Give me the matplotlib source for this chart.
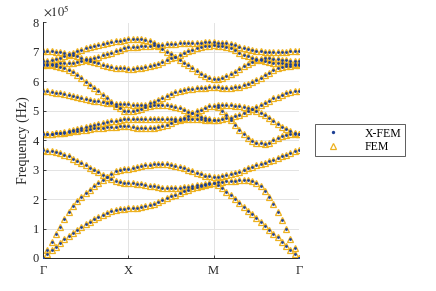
import numpy as np
import matplotlib
matplotlib.use("Agg")
import matplotlib.pyplot as plt

# --- path coordinate: G-X, X-M, M-G, 20 steps each ---
k_path = np.linspace(0, 3, 61)
k_ticks = [0, 1, 2, 3]
k_labels = ["Γ", "X", "M", "Γ"]

# --- band frequencies (x 1e5 Hz) ---
band_a = [0.00, 0.13, 0.26, 0.39, 0.51, 0.63, 0.74, 0.85, 0.95, 1.05, 1.14, 1.23, 1.32, 1.40, 1.47, 1.53, 1.58, 1.62, 1.66, 1.68, 1.70,
          1.70, 1.71, 1.73, 1.76, 1.80, 1.85, 1.91, 1.97, 2.03, 2.09, 2.15, 2.21, 2.27, 2.32, 2.37, 2.41, 2.45, 2.49, 2.52, 2.55,
          2.47, 2.37, 2.25, 2.13, 2.00, 1.87, 1.74, 1.61, 1.48, 1.35, 1.22, 1.09, 0.96, 0.83, 0.70, 0.56, 0.42, 0.28, 0.14, 0.00]
band_b = [0.00, 0.27, 0.54, 0.81, 1.07, 1.32, 1.55, 1.76, 1.94, 2.08, 2.20, 2.32, 2.44, 2.55, 2.66, 2.76, 2.86, 2.94, 2.99, 3.02, 3.03,
          3.07, 3.10, 3.13, 3.15, 3.17, 3.19, 3.20, 3.20, 3.19, 3.17, 3.14, 3.10, 3.05, 3.00, 2.95, 2.90, 2.85, 2.80, 2.77, 2.75,
          2.76, 2.78, 2.81, 2.85, 2.89, 2.93, 2.99, 3.05, 3.10, 3.15, 3.20, 3.24, 3.28, 3.33, 3.39, 3.45, 3.51, 3.57, 3.62, 3.66]
band_c = [3.66, 3.65, 3.63, 3.60, 3.56, 3.51, 3.45, 3.38, 3.31, 3.23, 3.15, 3.07, 2.99, 2.91, 2.83, 2.76, 2.68, 2.62, 2.58, 2.56, 2.55,
          2.54, 2.53, 2.51, 2.48, 2.45, 2.43, 2.41, 2.39, 2.38, 2.37, 2.37, 2.38, 2.40, 2.42, 2.44, 2.47, 2.49, 2.52, 2.54, 2.56,
          2.57, 2.58, 2.60, 2.61, 2.63, 2.64, 2.65, 2.64, 2.61, 2.55, 2.43, 2.27, 2.06, 1.82, 1.56, 1.28, 0.98, 0.66, 0.33, 0.00]
band_g1 = [4.20, 4.21, 4.22, 4.24, 4.26, 4.29, 4.32, 4.35, 4.38, 4.42, 4.45, 4.49, 4.52, 4.56, 4.59, 4.62, 4.65, 4.67, 4.69, 4.71, 4.72,
           4.72, 4.72, 4.72, 4.72, 4.72, 4.72, 4.72, 4.72, 4.72, 4.72, 4.72, 4.72, 4.72, 4.71, 4.71, 4.71, 4.71, 4.70, 4.70, 4.70,
           4.70, 4.72, 4.74, 4.77, 4.81, 4.86, 4.92, 4.98, 5.05, 5.12, 5.20, 5.28, 5.35, 5.42, 5.48, 5.54, 5.59, 5.63, 5.66, 5.67]
band_g2 = [4.20, 4.21, 4.22, 4.23, 4.24, 4.26, 4.28, 4.30, 4.32, 4.34, 4.36, 4.38, 4.40, 4.42, 4.43, 4.44, 4.45, 4.46, 4.47, 4.47, 4.47,
           4.45, 4.43, 4.42, 4.41, 4.41, 4.42, 4.44, 4.48, 4.53, 4.58, 4.64, 4.70, 4.77, 4.84, 4.91, 4.98, 5.04, 5.10, 5.15, 5.18,
           5.12, 5.00, 4.85, 4.68, 4.52, 4.36, 4.21, 4.08, 3.98, 3.92, 3.89, 3.88, 3.92, 4.00, 4.08, 4.14, 4.18, 4.20, 4.21, 4.22]
band_d = [6.55, 6.55, 6.54, 6.52, 6.49, 6.45, 6.40, 6.32, 6.22, 6.10, 5.98, 5.88, 5.78, 5.67, 5.55, 5.42, 5.30, 5.18, 5.08, 5.01, 4.98,
          4.99, 5.02, 5.07, 5.12, 5.17, 5.20, 5.21, 5.21, 5.20, 5.18, 5.14, 5.09, 5.03, 4.97, 4.91, 4.85, 4.80, 4.75, 4.72, 4.70,
          5.20, 5.20, 5.20, 5.19, 5.18, 5.16, 5.14, 5.10, 5.06, 5.00, 4.93, 4.85, 4.75, 4.65, 4.55, 4.45, 4.37, 4.30, 4.25, 4.22]
band_f = [5.67, 5.66, 5.64, 5.62, 5.59, 5.56, 5.53, 5.50, 5.47, 5.44, 5.41, 5.38, 5.35, 5.32, 5.30, 5.28, 5.26, 5.24, 5.23, 5.22, 5.22,
          5.21, 5.20, 5.20, 5.21, 5.25, 5.31, 5.38, 5.45, 5.52, 5.58, 5.63, 5.67, 5.71, 5.73, 5.75, 5.77, 5.78, 5.79, 5.80, 5.80,
          5.80, 5.79, 5.79, 5.79, 5.80, 5.82, 5.86, 5.92, 5.98, 6.05, 6.13, 6.22, 6.30, 6.38, 6.44, 6.48, 6.51, 6.53, 6.54, 6.55]
band_e1 = [7.03, 7.03, 7.02, 7.01, 6.99, 6.96, 6.93, 6.89, 6.85, 6.80, 6.75, 6.70, 6.65, 6.61, 6.57, 6.53, 6.50, 6.47, 6.45, 6.44, 6.43,
           6.43, 6.44, 6.46, 6.48, 6.51, 6.55, 6.60, 6.66, 6.72, 6.78, 6.84, 6.90, 6.96, 7.02, 7.07, 7.12, 7.16, 7.19, 7.21, 7.22,
           7.21, 7.20, 7.17, 7.12, 7.06, 6.98, 6.91, 6.85, 6.80, 6.75, 6.71, 6.68, 6.65, 6.63, 6.62, 6.61, 6.60, 6.60, 6.60, 6.60]
band_e2 = [6.68, 6.69, 6.72, 6.75, 6.80, 6.85, 6.90, 6.96, 7.02, 7.07, 7.12, 7.16, 7.20, 7.24, 7.27, 7.30, 7.33, 7.36, 7.38, 7.41, 7.43,
           7.44, 7.45, 7.44, 7.42, 7.37, 7.30, 7.21, 7.11, 7.01, 6.92, 6.83, 6.73, 6.64, 6.55, 6.45, 6.35, 6.26, 6.17, 6.10, 6.07,
           6.08, 6.12, 6.17, 6.24, 6.33, 6.42, 6.51, 6.60, 6.67, 6.72, 6.76, 6.78, 6.78, 6.77, 6.76, 6.74, 6.72, 6.70, 6.69, 6.68]
band_e3 = [6.60, 6.60, 6.60, 6.60, 6.61, 6.62, 6.63, 6.64, 6.66, 6.68, 6.71, 6.75, 6.79, 6.83, 6.88, 6.93, 6.98, 7.03, 7.08, 7.12, 7.16,
           7.17, 7.18, 7.19, 7.20, 7.21, 7.22, 7.23, 7.25, 7.26, 7.27, 7.28, 7.29, 7.30, 7.31, 7.31, 7.32, 7.32, 7.33, 7.33, 7.33,
           7.32, 7.31, 7.29, 7.26, 7.22, 7.18, 7.14, 7.10, 7.07, 7.04, 7.02, 7.01, 7.00, 7.00, 7.00, 7.01, 7.01, 7.02, 7.02, 7.03]

bands = [band_a, band_b, band_c, band_g1, band_g2, band_d, band_f, band_e1, band_e2, band_e3]

BLUE = "#1c3f94"
ORANGE = "#EDB120"
DARK = "#262626"

plt.rcParams["font.family"] = ["Liberation Serif", "DejaVu Serif"]
plt.rcParams["mathtext.fontset"] = "stix"

fig = plt.figure(figsize=(4.36, 2.91), dpi=100)
ax = fig.add_axes([43 / 436, 33 / 291, 256 / 436, 235.5 / 291])

for i, band in enumerate(bands):
    f = np.array(band) * 1e5
    ax.plot(k_path, f, linestyle="none", marker="^", markersize=4.0,
            markerfacecolor="none", markeredgecolor=ORANGE, markeredgewidth=0.9,
            label="FEM" if i == 0 else None, zorder=2)
for i, band in enumerate(bands):
    f = np.array(band) * 1e5
    ax.plot(k_path, f, linestyle="none", marker="o", markersize=2.0,
            color=BLUE, markeredgewidth=0,
            label="X-FEM" if i == 0 else None, zorder=3)

ax.set_xlim(0, 3)
ax.set_ylim(0, 8e5)
ax.set_xticks(k_ticks)
ax.set_xticklabels(k_labels)
ax.set_yticks(np.arange(0, 9) * 1e5)
ax.set_yticklabels([str(v) for v in range(9)])
ax.tick_params(direction="in", length=2.5, width=0.6, labelsize=9, colors=DARK, pad=3)
ax.tick_params(axis="x", pad=5)
ax.grid(True, color="#e3e3e3", linewidth=0.7)
ax.set_axisbelow(True)
for s in ["top", "right"]:
    ax.spines[s].set_visible(False)
for s in ["left", "bottom"]:
    ax.spines[s].set_color(DARK)
    ax.spines[s].set_linewidth(0.7)
ax.set_ylabel("Frequency (Hz)", fontsize=10, color=DARK, labelpad=2)
ax.text(0.0, 1.01, r"$\times 10^5$", transform=ax.transAxes, fontsize=9,
        color=DARK, ha="left", va="bottom")

h, l = ax.get_legend_handles_labels()
order = [l.index("X-FEM"), l.index("FEM")]
leg = fig.legend([h[i] for i in order], [l[i] for i in order],
                 loc="upper left", bbox_to_anchor=(315 / 436, 1 - 124 / 291),
                 borderaxespad=0, fontsize=8.5, frameon=True, fancybox=False,
                 edgecolor="#333333", borderpad=0.3, handletextpad=1.5,
                 labelspacing=0.1, handlelength=2.4, markerscale=1.2)
leg.get_frame().set_linewidth(0.7)

fig.savefig("out.png", dpi=100)
